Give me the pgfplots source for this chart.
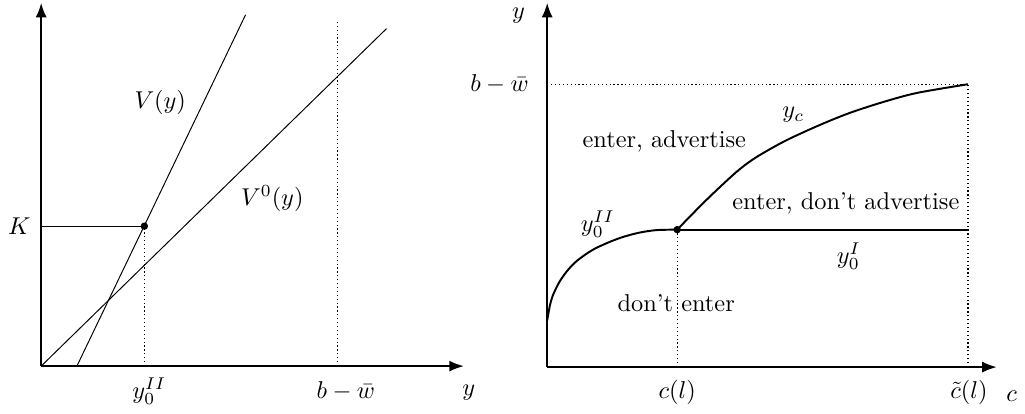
\documentclass[border=0pt]{standalone}
\usepackage{pgfplots}
\pgfplotsset{compat=1.18}
\usetikzlibrary{arrows.meta}
\pgfplotsset{panel/.style={scale only axis,axis lines=left,clip=false,enlargelimits=false,
  axis line style={thick,-{Latex[length=6pt,width=4.6pt]}},
  xtick=\empty,ytick=\empty,xmin=0,ymin=0},
  guide/.style={black,line width=0.5pt,dash pattern=on 0.5pt off 1.1pt}}
\begin{document}
\begin{tikzpicture}
% left panel: value functions
\begin{axis}[panel,width=173.5pt,height=149.1pt,xmax=426,ymax=366]
\addplot[black] coordinates {(36,0) (206,354)};
\addplot[black] coordinates {(0,0) (348,340)};
\addplot[black] coordinates {(0,141) (104,141)};
\addplot[guide] coordinates {(104,0) (104,141)};
\addplot[guide] coordinates {(299,0) (299,349)};
\addplot[black,only marks,mark=*,mark size=1.3pt] coordinates {(104,141)};
\node at (axis cs:120,266) {$V(y)$};
\node at (axis cs:233,169) {$V^0(y)$};
\node at (axis cs:-22,141) {$K$};
\node at (axis cs:109,-25) {$y_0^{II}$};
\node at (axis cs:307,-25) {$b-\bar{w}$};
\node at (axis cs:431,-27) {$y$};
\end{axis}
% right panel: regions in (c,y)
\begin{axis}[panel,at={(207.7pt,-0.4pt)},width=184.5pt,height=149.5pt,xmax=453,ymax=367]
\addplot[guide] coordinates {(0,285) (424,285)};
\addplot[guide] coordinates {(424,0) (424,285)};
\addplot[guide] coordinates {(131,0) (131,138.5)};
\addplot[black,thick,smooth] coordinates {(0,47) (2.7,62) (6,73) (12.7,86.5) (21,98) (29.3,106.5) (39.3,114) (49.3,120) (62.7,126) (76,131) (93,135.5) (110,138) (131,138.5)};
\addplot[black,thick,smooth] coordinates {(131,138.5) (160,168) (190,196) (210,211) (240,228) (276,244.5) (306,256.5) (340,267.5) (373,276.3) (424,285)};
\addplot[black,thick] coordinates {(131,138.5) (424,138.5)};
\addplot[black,only marks,mark=*,mark size=1.3pt] coordinates {(131,138.5)};
\node at (axis cs:-29,354) {$y$};
\node[anchor=east] at (axis cs:-10,285) {$b-\bar{w}$};
\node at (axis cs:118,227) {enter, advertise};
\node at (axis cs:248,254) {$y_c$};
\node at (axis cs:301,165) {enter, don't advertise};
\node at (axis cs:51,144) {$y_0^{II}$};
\node at (axis cs:304,112) {$y_0^{I}$};
\node at (axis cs:130,64) {don't enter};
\node at (axis cs:131,-26) {$c(l)$};
\node at (axis cs:425,-26) {$\tilde{c}(l)$};
\node at (axis cs:468,-29) {$c$};
\end{axis}
\end{tikzpicture}
\end{document}
